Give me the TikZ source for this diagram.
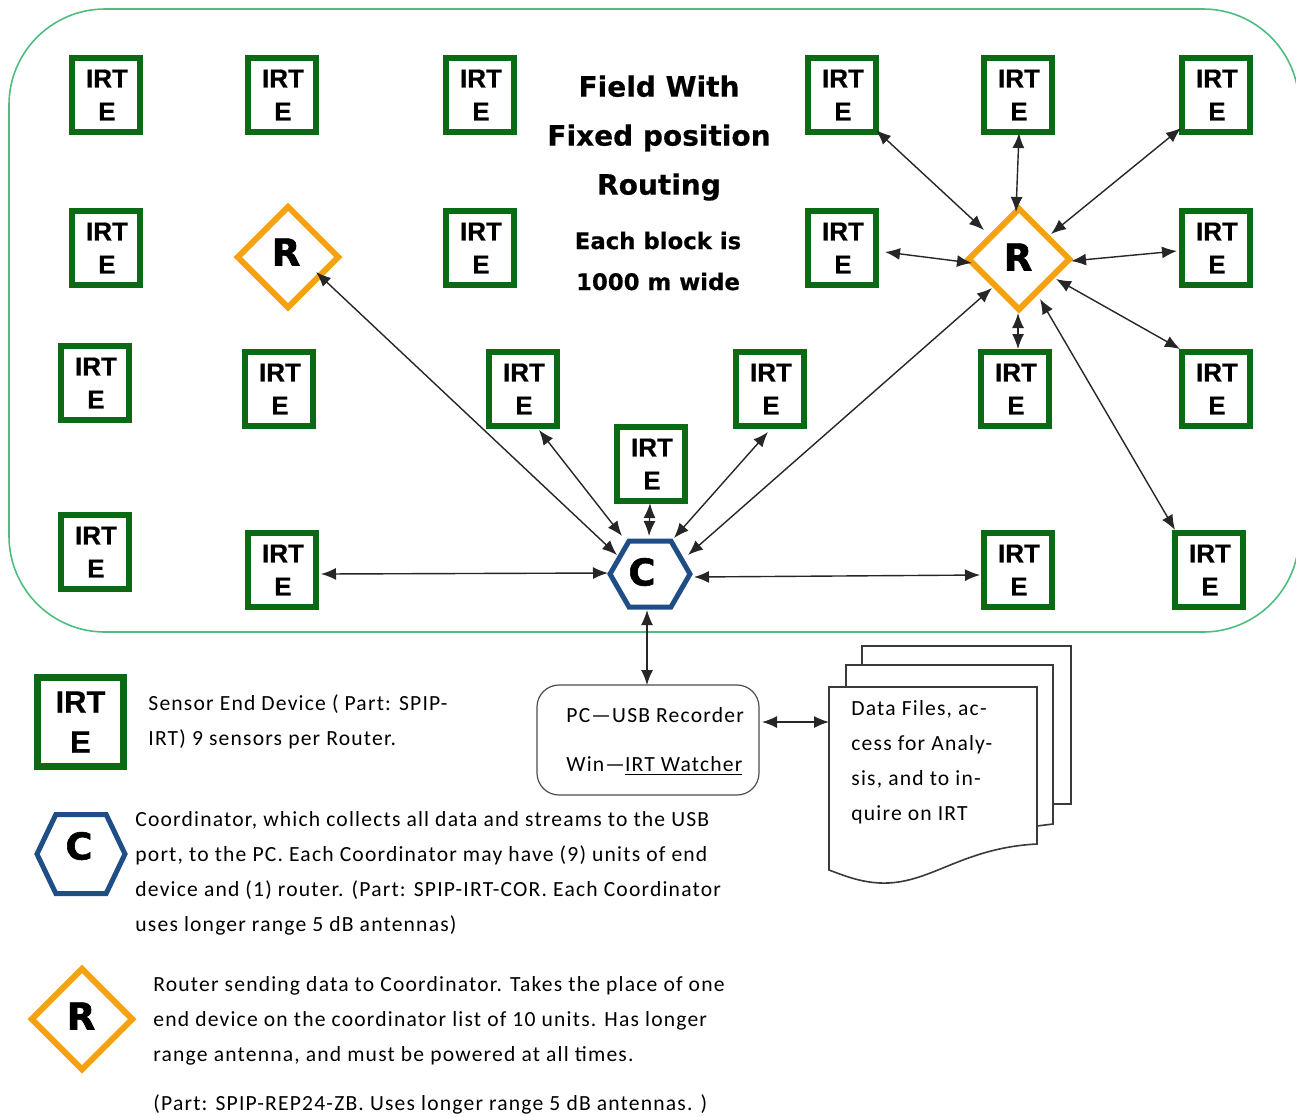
\documentclass[tikz,border=0pt]{standalone}
\usepackage{fontspec}
\usetikzlibrary{shapes.geometric,shapes.symbols,arrows.meta}
\setmainfont{Carlito}[LetterSpace=5.5]
\newfontfamily\arialf{Liberation Sans Bold}[FakeBold=0.5]
\newfontfamily\markf{DejaVu Sans Bold}[FakeBold=1.5]
\newfontfamily\titlef{DejaVu Sans Bold}[FakeBold=0.4]
\definecolor{fieldgreen}{HTML}{4DBE7F}
\definecolor{boxgreen}{HTML}{0A6B14}
\definecolor{hexblue}{HTML}{1F4E87}
\definecolor{routerorange}{HTML}{F4A20F}
\definecolor{pagegray}{HTML}{3A3A3A}
\newcommand\irtlabel{\hspace*{1pt}IRT\\\hspace*{1pt}E}
\tikzset{
  irtbox/.style={draw=boxgreen,line width=2.9pt,fill=white,minimum width=34.3pt,minimum height=36.8pt,inner sep=0pt,align=center,font=\arialf\fontsize{13}{16.5}\selectfont},
  irtlegend/.style={draw=boxgreen,line width=3.5pt,fill=white,minimum width=43pt,minimum height=44.5pt,inner sep=0pt,align=center,font=\arialf\fontsize{15.5}{20}\selectfont},
  routershape/.style={diamond,aspect=1,draw=routerorange,line width=3pt,fill=white,minimum size=51.5pt,inner sep=0pt},
  hubshape/.style={signal,signal to=east and west,draw=hexblue,line width=2.5pt,fill=white,inner sep=0pt},
  marktext/.style={font=\markf\fontsize{18.5}{20}\selectfont,inner sep=0pt},
  conn/.style={draw=black!85,line width=0.7pt,{Latex[length=7.5pt,width=6pt]}-{Latex[length=7.5pt,width=6pt]}},
  bodytext/.style={anchor=west,align=left,inner sep=0pt,font=\fontsize{10.8}{17.5}\selectfont},
  page/.style={draw=pagegray,line width=0.8pt,fill=white,line join=miter},
}
\newcommand\lnk[6]{\draw[conn] ([shift={(#2,#3)}]#1.center) -- ([shift={(#5,#6)}]#4.center);}
\begin{document}
\begin{tikzpicture}[x=0.5pt,y=-0.5pt]
\useasboundingbox (0,0) rectangle (1296,1116);
\draw[draw=fieldgreen,line width=0.8pt,rounded corners=48pt] (9,9) rectangle (1299,632);
% end devices
\node[irtbox] (a1) at (106,95) {\irtlabel};
\node[irtbox] (a2) at (282,95) {\irtlabel};
\node[irtbox] (a3) at (480,95) {\irtlabel};
\node[irtbox] (a4) at (842,95) {\irtlabel};
\node[irtbox] (a5) at (1018,95) {\irtlabel};
\node[irtbox] (a6) at (1216,95) {\irtlabel};
\node[irtbox] (b1) at (106,248) {\irtlabel};
\node[irtbox] (b3) at (480,248) {\irtlabel};
\node[irtbox] (b4) at (842,248) {\irtlabel};
\node[irtbox] (b6) at (1216,248) {\irtlabel};
\node[irtbox] (c1) at (95,383) {\irtlabel};
\node[irtbox] (c2) at (279,389) {\irtlabel};
\node[irtbox] (c3) at (523,389) {\irtlabel};
\node[irtbox] (c4) at (770,389) {\irtlabel};
\node[irtbox] (c5) at (1015,389) {\irtlabel};
\node[irtbox] (c6) at (1216,389) {\irtlabel};
\node[irtbox] (d1) at (651,464) {\irtlabel};
\node[irtbox] (e1) at (95,552) {\irtlabel};
\node[irtbox] (e2) at (282,570) {\irtlabel};
\node[irtbox] (e5) at (1018,570) {\irtlabel};
\node[irtbox] (e6) at (1209,570) {\irtlabel};
% routers and coordinator
\node[routershape] (r1) at (288,257) {};
\node[routershape] (r2) at (1019,259) {};
\node[hubshape,signal pointer angle=120,minimum width=40pt,minimum height=33pt] (hub) at (650,574) {};
\node[marktext] (r1t) at (286,252) {R};
\node[marktext] (r2t) at (1018,257) {R};
\node[marktext] (hubt) at (642,572) {C};
% title
\node[font=\titlef\fontsize{14}{24.5}\selectfont,align=center,inner sep=0pt] (title) at (659,138) {Field With\\Fixed position\\Routing};
\node[font=\titlef\fontsize{11.4}{20.5}\selectfont,align=center,inner sep=0pt] (sub) at (658,261) {Each block is\\1000 m wide};
% connectors
\lnk{r1}{28}{15}{hub}{-33}{-19}
\lnk{c3}{16}{41}{hub}{-28}{-38}
\lnk{d1}{-1}{39}{hub}{-1}{-38}
\lnk{c4}{-2}{43}{hub}{24}{-36}
\lnk{r2}{-27}{29}{hub}{38}{-19}
\lnk{e2}{39}{4}{hub}{-42}{-1}
\lnk{e5}{-38}{5}{hub}{44}{3}
\lnk{a4}{34}{35}{r2}{-35}{-29}
\lnk{a5}{1}{38}{r2}{-3}{-47}
\lnk{a6}{-35}{33}{r2}{32}{-25}
\lnk{b4}{43}{4}{r2}{-47}{4}
\lnk{b6}{-39}{3}{r2}{52}{2}
\lnk{c5}{3}{-40}{r2}{-1}{54}
\lnk{c6}{-36}{-40}{r2}{37}{20}
\lnk{e6}{-34}{-40}{r2}{21}{40}
% PC
\node[draw=black!70,line width=0.6pt,rounded corners=11pt,minimum width=111pt,minimum height=55pt,inner sep=0pt] (pc) at (648,740) {};
\lnk{pc}{-1}{-55}{hub}{-3}{36}
\node[bodytext] (pct1) at (566,715) {PC—USB Recorder};
\node[bodytext] (pct2) at (566,766) {Win—\underline{IRT Watcher}};
% document stack
\draw[page] (862,665) -- (862,646) -- (1071,646) -- (1071,804) -- (1053,804);
\draw[page] (846,687) -- (846,665) -- (1053,665) -- (1053,824) -- (1037,826);
\draw[page] (829,687) -- (1037,687) -- (1037,844) .. controls (960,848) and (930,885) .. (880,883) .. controls (860,882) and (845,876) .. (829,870) -- cycle;
\coordinate (docin) at (829,722);
\draw[conn] ([shift={(114,-18)}]pc.center) -- (docin);
\node[bodytext] (doct) at (851,762.5) {Data Files, ac-\\cess for Analy-\\sis, and to in-\\quire on IRT};
% legend
\node[irtlegend] (legi) at (80.5,722) {IRT\\E};
\node[hubshape,signal pointer angle=129,minimum width=44pt,minimum height=39.5pt] (legc) at (81,854) {};
\node[routershape] (legr) at (82,1019) {};
\node[marktext] (legct) at (79,846) {C};
\node[marktext] (legrt) at (81,1016) {R};
\node[bodytext] (ti) at (148,721.5) {Sensor End Device ( Part: SPIP-\\IRT) 9 sensors per Router.};
\node[bodytext] (tc) at (135,873.5) {Coordinator, which collects all data and streams to the USB\\port, to the PC. Each Coordinator may have (9) units of end\\device and (1) router. (Part: SPIP-IRT-COR. Each Coordinator\\uses longer range 5 dB antennas)};
\node[bodytext] (tr) at (153,1021) {Router sending data to Coordinator. Takes the place of one\\end device on the coordinator list of 10 units.  Has longer\\range antenna, and must be powered at all times.};
\node[bodytext] (tp) at (153,1104) {(Part: SPIP-REP24-ZB.  Uses longer range 5 dB antennas. )};
\end{tikzpicture}
\end{document}
